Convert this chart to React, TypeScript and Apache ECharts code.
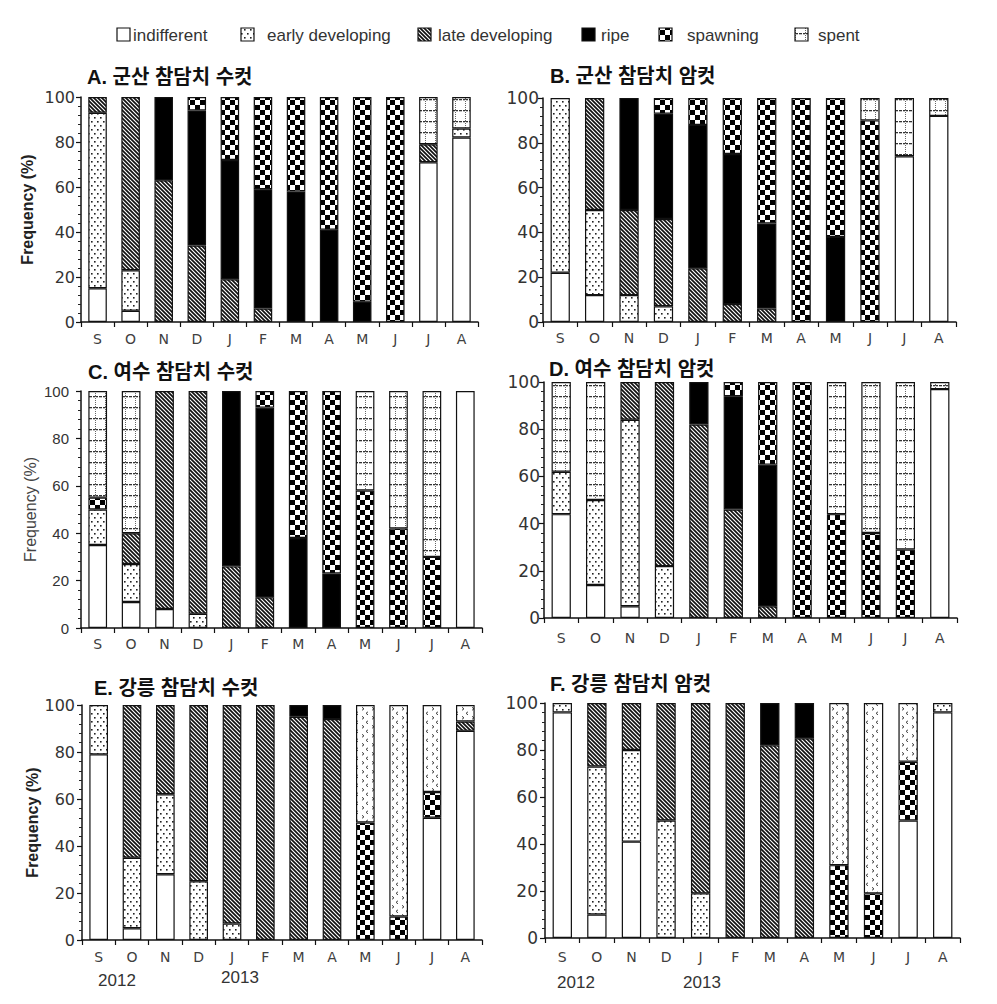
import React, { useEffect, useRef } from 'react';
import * as echarts from 'echarts';

const months = ['S', 'O', 'N', 'D', 'J', 'F', 'M', 'A', 'M', 'J', 'J', 'A'];
const stages = ['indifferent', 'early developing', 'late developing', 'ripe', 'spawning', 'spent'];
const years = ['2012', '2013'];

// each row: [indifferent, early developing, late developing, ripe, spawning, spent] (%)
const gunsanMale = [
  [15, 78, 7, 0, 0, 0],
  [5, 18, 77, 0, 0, 0],
  [0, 0, 63, 37, 0, 0],
  [0, 0, 34, 60, 6, 0],
  [0, 0, 19, 53, 28, 0],
  [0, 0, 6, 53, 41, 0],
  [0, 0, 0, 58, 42, 0],
  [0, 0, 0, 41, 59, 0],
  [0, 0, 0, 9, 91, 0],
  [0, 0, 0, 0, 100, 0],
  [71, 0, 8, 0, 0, 21],
  [82, 4, 0, 0, 0, 14],
];
const gunsanFemale = [
  [22, 78, 0, 0, 0, 0],
  [12, 38, 50, 0, 0, 0],
  [0, 12, 38, 50, 0, 0],
  [0, 7, 39, 47, 7, 0],
  [0, 0, 24, 64, 12, 0],
  [0, 0, 8, 67, 25, 0],
  [0, 0, 6, 38, 56, 0],
  [0, 0, 0, 0, 100, 0],
  [0, 0, 0, 38, 62, 0],
  [0, 0, 0, 0, 90, 10],
  [74, 0, 0, 0, 0, 26],
  [92, 0, 0, 0, 0, 8],
];
const yeosuMale = [
  [35, 15, 0, 0, 5, 45],
  [11, 16, 13, 0, 0, 60],
  [8, 0, 92, 0, 0, 0],
  [0, 6, 94, 0, 0, 0],
  [0, 0, 26, 74, 0, 0],
  [0, 0, 13, 80, 7, 0],
  [0, 0, 0, 38, 62, 0],
  [0, 0, 0, 23, 77, 0],
  [0, 0, 0, 0, 58, 42],
  [0, 0, 0, 0, 42, 58],
  [0, 0, 0, 0, 30, 70],
  [100, 0, 0, 0, 0, 0],
];
const yeosuFemale = [
  [44, 18, 0, 0, 0, 38],
  [14, 36, 0, 0, 0, 50],
  [5, 79, 16, 0, 0, 0],
  [0, 22, 78, 0, 0, 0],
  [0, 0, 82, 18, 0, 0],
  [0, 0, 46, 48, 6, 0],
  [0, 0, 5, 60, 35, 0],
  [0, 0, 0, 0, 100, 0],
  [0, 0, 0, 0, 44, 56],
  [0, 0, 0, 0, 36, 64],
  [0, 0, 0, 0, 29, 71],
  [97, 0, 0, 0, 0, 3],
];
const gangneungMale = [
  [79, 21, 0, 0, 0, 0],
  [5, 30, 65, 0, 0, 0],
  [28, 34, 38, 0, 0, 0],
  [0, 25, 75, 0, 0, 0],
  [0, 7, 93, 0, 0, 0],
  [0, 0, 100, 0, 0, 0],
  [0, 0, 95, 5, 0, 0],
  [0, 0, 94, 6, 0, 0],
  [0, 0, 0, 0, 50, 50],
  [0, 0, 0, 0, 10, 90],
  [52, 0, 0, 0, 11, 37],
  [89, 0, 4, 0, 0, 7],
];
const gangneungFemale = [
  [96, 4, 0, 0, 0, 0],
  [10, 63, 27, 0, 0, 0],
  [41, 39, 20, 0, 0, 0],
  [0, 50, 50, 0, 0, 0],
  [0, 19, 81, 0, 0, 0],
  [0, 0, 100, 0, 0, 0],
  [0, 0, 82, 18, 0, 0],
  [0, 0, 85, 15, 0, 0],
  [0, 0, 0, 0, 31, 69],
  [0, 0, 0, 0, 19, 81],
  [50, 0, 0, 0, 25, 25],
  [96, 4, 0, 0, 0, 0],
];

const panelTitles = ['A. 군산 참담치 수컷', 'B. 군산 참담치 암컷', 'C. 여수 참담치 수컷', 'D. 여수 참담치 암컷', 'E. 강릉 참담치 수컷', 'F. 강릉 참담치 암컷'];
const panelData = [gunsanMale, gunsanFemale, yeosuMale, yeosuFemale, gangneungMale, gangneungFemale];

// layout (positions/styles)
const layout = [
  { grid: { left: 81, top: 97, width: 397, height: 225 }, tx: 87, ty: 77, yName: true, nameGap: 46, nameBold: true, lm: 6, lf: 16, lfam: 'DejaVu Sans', xm: 10, alt: false },
  { grid: { left: 543, top: 98, width: 413, height: 224 }, tx: 550, ty: 76, yName: false, nameGap: 0, nameBold: true, lm: 4, lf: 17, lfam: 'DejaVu Sans', xm: 9, alt: false },
  { grid: { left: 81, top: 391, width: 401, height: 237 }, tx: 88, ty: 372, yName: true, nameGap: 43, nameBold: false, lm: 12, lf: 15, lfam: 'Liberation Sans', xm: 9, alt: false },
  { grid: { left: 544, top: 382, width: 413, height: 236 }, tx: 549, ty: 369, yName: false, nameGap: 0, nameBold: true, lm: 4, lf: 17, lfam: 'DejaVu Sans', xm: 13, alt: false },
  { grid: { left: 82, top: 705, width: 400, height: 235 }, tx: 94, ty: 688, yName: true, nameGap: 42, nameBold: true, lm: 7, lf: 16, lfam: 'DejaVu Sans', xm: 10, alt: true },
  { grid: { left: 545, top: 703, width: 415, height: 235 }, tx: 550, ty: 684, yName: false, nameGap: 0, nameBold: true, lm: 7, lf: 17, lfam: 'DejaVu Sans', xm: 12, alt: true },
];

function tile(w: number, h: number, draw: (ctx: CanvasRenderingContext2D) => void) {
  const c = document.createElement('canvas');
  c.width = w;
  c.height = h;
  const ctx = c.getContext('2d') as CanvasRenderingContext2D;
  ctx.fillStyle = '#fff';
  ctx.fillRect(0, 0, w, h);
  draw(ctx);
  return { image: c.toDataURL(), repeat: 'repeat', imageWidth: w, imageHeight: h } as any;
}

function makePatterns() {
  const dots = tile(6, 8, (ctx) => {
    ctx.fillStyle = '#222';
    ctx.fillRect(1, 1, 1.6, 1.6);
    ctx.fillRect(4, 5, 1.6, 1.6);
  });
  const hatch = tile(4, 4, (ctx) => {
    ctx.strokeStyle = '#111';
    ctx.lineWidth = 1.7;
    ctx.beginPath();
    ctx.moveTo(-1, -1); ctx.lineTo(5, 5);
    ctx.moveTo(-1, 3); ctx.lineTo(1, 5);
    ctx.moveTo(3, -1); ctx.lineTo(5, 1);
    ctx.stroke();
  });
  const checker = tile(10, 10, (ctx) => {
    ctx.fillStyle = '#000';
    ctx.fillRect(0, 0, 5, 5);
    ctx.fillRect(5, 5, 5, 5);
  });
  const grid = tile(10, 11, (ctx) => {
    ctx.fillStyle = '#666';
    for (let y = 0; y < 11; y += 2) ctx.fillRect(5, y, 1, 1);
    ctx.fillStyle = '#333';
    for (let x = 0; x < 10; x += 3) ctx.fillRect(x, 0, 2, 1.3);
  });
  const chevron = tile(10, 9, (ctx) => {
    ctx.strokeStyle = '#444';
    ctx.lineWidth = 1;
    ctx.beginPath();
    ctx.moveTo(8, 0.8); ctx.lineTo(6, 2.3); ctx.lineTo(8, 3.8);
    ctx.moveTo(2, 5.3); ctx.lineTo(4, 6.8); ctx.lineTo(2, 8.3);
    ctx.stroke();
  });
  return { dots, hatch, checker, grid, chevron };
}

export default function App() {
  const ref = useRef<HTMLDivElement>(null);
  useEffect(() => {
    if (!ref.current) return;
    const chart = echarts.init(ref.current, null, { renderer: 'svg' });
    const P = makePatterns();
    const fillsFor = (alt: boolean) => ['#fff', P.dots, P.hatch, '#000', P.checker, alt ? P.chevron : P.grid];

    const grids: any[] = [];
    const xAxes: any[] = [];
    const yAxes: any[] = [];
    const series: any[] = [];
    const graphics: any[] = [];

    layout.forEach((L, p) => {
      grids.push({ ...L.grid, containLabel: false, outerBoundsMode: 'none' });
      xAxes.push({
        type: 'category',
        gridIndex: p,
        data: months,
        axisLine: { lineStyle: { color: '#111', width: 1.5 } },
        axisTick: { show: true, length: 5, lineStyle: { color: '#111', width: 1.2 } },
        axisLabel: { color: '#404040', fontSize: 14, fontFamily: 'DejaVu Sans', margin: L.xm },
        splitLine: { show: false },
      });
      yAxes.push({
        type: 'value',
        gridIndex: p,
        min: 0,
        max: 100,
        interval: 20,
        splitNumber: 5,
        name: L.yName ? 'Frequency (%)' : '',
        nameLocation: 'middle',
        nameRotate: 90,
        nameGap: L.nameGap,
        nameTextStyle: { fontSize: 16, fontWeight: L.nameBold ? 'bold' : 'normal', color: L.nameBold ? '#222' : '#444', fontFamily: 'Liberation Sans' },
        axisLine: { show: true, lineStyle: { color: '#111', width: 1.5 } },
        axisTick: { show: true, length: 5, lineStyle: { color: '#111', width: 1.2 } },
        minorTick: { show: true, splitNumber: 5, length: 3, lineStyle: { color: '#222', width: 1 } },
        axisLabel: { color: '#333', fontSize: L.lf, fontFamily: L.lfam, margin: L.lm },
        splitLine: { show: false },
      });
      const fills = fillsFor(L.alt);
      const rows = panelData[p];
      stages.forEach((st, s) => {
        series.push({
          type: 'bar',
          name: st,
          xAxisIndex: p,
          yAxisIndex: p,
          stack: 'panel' + p,
          barWidth: '56%',
          silent: true,
          data: rows.map((r) => (r[s] > 0 ? r[s] : null)),
          itemStyle: { color: fills[s], borderColor: '#111', borderWidth: 1.2 },
          emphasis: { disabled: true },
        });
      });
      graphics.push({
        type: 'text',
        x: L.tx,
        y: L.ty,
        style: {
          text: panelTitles[p],
          font: 'bold 20px "Liberation Sans", "Noto Sans CJK KR", sans-serif',
          fill: '#111',
          textAlign: 'left',
          textVerticalAlign: 'middle',
        },
      });
    });

    // year labels
    const yearPos = [
      { x: 117, y: 980 }, { x: 240, y: 977 },
      { x: 576, y: 982 }, { x: 702, y: 982 },
    ];
    yearPos.forEach((pos, i) => {
      graphics.push({
        type: 'text',
        x: pos.x,
        y: pos.y,
        style: {
          text: years[i % 2],
          font: '17px "Liberation Sans", sans-serif',
          fill: '#333',
          textAlign: 'center',
          textVerticalAlign: 'middle',
        },
      });
    });

    // legend
    const legendFills = ['#fff', P.dots, P.hatch, '#000', P.checker, P.grid];
    const legendBoxX = [117, 241, 418, 582, 659, 795];
    const legendTextX = [133, 267, 438, 601, 687, 818];
    stages.forEach((st, i) => {
      graphics.push({
        type: 'rect',
        shape: { x: legendBoxX[i], y: 28, width: 13, height: 13 },
        style: { fill: legendFills[i], stroke: '#111', lineWidth: 1.2 },
      });
      graphics.push({
        type: 'text',
        x: legendTextX[i],
        y: 35,
        style: {
          text: st,
          font: '17px "Liberation Sans", sans-serif',
          fill: '#333',
          textAlign: 'left',
          textVerticalAlign: 'middle',
        },
      });
    });

    chart.setOption({
      animation: false,
      backgroundColor: '#fff',
      grid: grids,
      xAxis: xAxes,
      yAxis: yAxes,
      series,
      graphic: { elements: graphics },
    });
    return () => chart.dispose();
  }, []);
  return <div ref={ref} style={{ position: 'absolute', left: 0, top: 0, width: 997, height: 1004 }} />;
}
